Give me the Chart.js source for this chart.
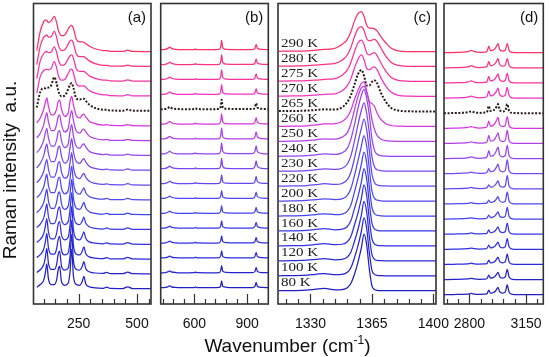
<!DOCTYPE html>
<html lang="en">
  <head>
    <meta charset="utf-8" />
    <title>Raman spectra vs temperature</title>
    <script src="https://cdn.jsdelivr.net/npm/chart.js/dist/chart.umd.min.js"></script>
    <style>
      * { margin: 0; padding: 0; }
      body {
        width: 550px;
        height: 357px;
        position: relative;
        overflow: hidden;
        background: #fff;
        font-family: "Liberation Sans", Arial, sans-serif;
        color: #111;
      }
      canvas { position: absolute; top: 0; }
      .ytitle {
        position: absolute;
        left: -119.6px;
        top: 159px;
        width: 260px;
        height: 22px;
        line-height: 22px;
        font-size: 19px;
        text-align: center;
        white-space: pre;
        transform: rotate(-90deg);
      }
      .xtitle {
        position: absolute;
        left: 137.5px;
        top: 335px;
        width: 300px;
        line-height: 22px;
        font-size: 19px;
        text-align: center;
      }
      .xtitle sup { font-size: 12px; line-height: 0; vertical-align: 8px; }
    </style>
  </head>
  <body>
    <canvas id="panelA"></canvas>
    <canvas id="panelB"></canvas>
    <canvas id="panelC"></canvas>
    <canvas id="panelD"></canvas>
    <div class="ytitle">Raman intensity  a.u.</div>
    <div class="xtitle">Wavenumber (cm<sup>-1</sup>)</div>

    <script>
      // temperatures, bottom trace first
      const temps = [80, 100, 120, 140, 160, 180, 200, 220, 230, 240, 250, 260, 265, 270, 275, 280, 290];
      const dottedTemp = 265;
      const colors = [
        "#1f1fc4", "#2424cf", "#2a2ad9", "#3030e2", "#3838ea", "#4242f0", "#5048f4", "#6448f4",
        "#7a46f2", "#9644ee", "#b43ee8", "#d834e0", "#2b1b1b", "#f432c0", "#fa329c", "#fc3282", "#fe3068",
      ];

      // tick labels (major) and minor tick marks for each panel
      const ticksA = [250, 500];
      const minorA = [100, 150, 200, 300, 350, 400, 450, 550];
      const ticksB = [600, 900];
      const minorB = [420, 480, 540, 660, 720, 780, 840, 960];
      const ticksC = [1330, 1365, 1400];
      const minorC = [1316, 1323, 1337, 1344, 1351, 1358, 1372, 1379, 1386, 1393];
      const ticksD = [2800, 3150];
      const minorD = [2660, 2730, 2870, 2940, 3010, 3080, 3220];

      // panel (a): wavenumbers and intensities (one row per temperature, 80 K first)
      const waveA = [70, 85, 100, 107, 113, 120, 132, 145, 155, 162, 168, 176, 190, 205, 213, 220, 227, 240, 255, 265, 272, 280, 295, 320, 355, 370, 385, 440, 460, 480, 560];
      const intensA = [
        [0.12,0.3,0.6,1.1,1.7,0.7,0.3,0.3,0.6,1.3,1.55,0.5,0.25,0.4,1.2,2.7,0.9,0.3,0.25,0.5,0.85,0.35,0.15,0.08,0.05,0.12,0.04,0.03,0.15,0.03,0.02],
        [0.12,0.3,0.65,1.15,1.75,0.75,0.32,0.32,0.65,1.35,1.55,0.55,0.28,0.42,1.25,2.7,0.95,0.32,0.28,0.52,0.85,0.38,0.16,0.08,0.05,0.12,0.04,0.03,0.14,0.03,0.02],
        [0.13,0.32,0.7,1.2,1.75,0.8,0.35,0.35,0.7,1.35,1.55,0.6,0.3,0.45,1.3,2.65,1.0,0.35,0.3,0.55,0.85,0.4,0.17,0.09,0.05,0.12,0.04,0.03,0.14,0.03,0.02],
        [0.14,0.35,0.75,1.25,1.75,0.85,0.38,0.38,0.75,1.4,1.55,0.65,0.32,0.5,1.35,2.6,1.05,0.38,0.32,0.58,0.85,0.42,0.18,0.1,0.05,0.12,0.04,0.03,0.13,0.03,0.02],
        [0.15,0.38,0.8,1.3,1.75,0.9,0.42,0.42,0.8,1.4,1.55,0.7,0.35,0.55,1.4,2.5,1.1,0.42,0.35,0.6,0.85,0.45,0.2,0.1,0.05,0.12,0.04,0.03,0.13,0.03,0.02],
        [0.16,0.4,0.85,1.35,1.75,0.95,0.45,0.45,0.85,1.45,1.55,0.75,0.38,0.6,1.45,2.4,1.15,0.45,0.38,0.62,0.85,0.48,0.22,0.11,0.05,0.11,0.04,0.03,0.12,0.03,0.02],
        [0.17,0.42,0.9,1.4,1.75,1.0,0.5,0.5,0.9,1.45,1.55,0.8,0.42,0.65,1.5,2.3,1.2,0.5,0.4,0.65,0.82,0.5,0.24,0.12,0.06,0.11,0.04,0.03,0.12,0.03,0.02],
        [0.18,0.45,0.95,1.45,1.75,1.1,0.55,0.55,0.95,1.5,1.6,0.9,0.48,0.7,1.55,2.2,1.25,0.55,0.45,0.68,0.8,0.55,0.27,0.13,0.06,0.1,0.04,0.03,0.11,0.03,0.02],
        [0.18,0.48,1.0,1.5,1.8,1.15,0.6,0.6,1.0,1.55,1.65,0.95,0.5,0.75,1.6,2.15,1.3,0.6,0.48,0.7,0.8,0.58,0.28,0.14,0.06,0.1,0.04,0.03,0.11,0.03,0.02],
        [0.2,0.5,1.05,1.55,1.85,1.2,0.65,0.65,1.05,1.6,1.7,1.0,0.55,0.8,1.65,2.1,1.35,0.62,0.5,0.72,0.8,0.6,0.3,0.15,0.07,0.1,0.04,0.03,0.1,0.03,0.02],
        [0.2,0.52,1.1,1.6,1.9,1.3,0.7,0.7,1.1,1.65,1.75,1.1,0.6,0.85,1.65,2.05,1.4,0.65,0.52,0.74,0.8,0.62,0.32,0.16,0.07,0.1,0.04,0.03,0.1,0.03,0.02],
        [0.22,0.55,1.15,1.6,1.9,1.35,0.75,0.8,1.15,1.65,1.75,1.15,0.65,0.9,1.7,2.0,1.45,0.7,0.55,0.75,0.8,0.62,0.33,0.17,0.07,0.1,0.04,0.03,0.1,0.03,0.02],
        [0.25,1.3,1.55,1.55,1.6,1.6,1.75,2.3,1.9,1.4,1.15,1.0,1.05,1.5,1.8,1.9,1.6,0.85,0.8,0.85,0.85,0.7,0.45,0.22,0.1,0.1,0.05,0.04,0.12,0.04,0.03],
        [0.2,1.35,1.75,1.8,1.85,1.8,1.9,2.35,1.95,1.45,1.2,1.1,1.15,1.55,1.8,1.85,1.6,0.85,0.7,0.72,0.72,0.62,0.4,0.22,0.1,0.1,0.05,0.04,0.12,0.04,0.03],
        [0.2,1.4,1.9,2.0,2.05,1.95,2.0,2.35,2.0,1.5,1.25,1.1,1.15,1.55,1.75,1.8,1.6,0.85,0.7,0.7,0.7,0.6,0.4,0.22,0.1,0.1,0.05,0.04,0.12,0.04,0.03],
        [0.15,1.4,2.0,2.1,2.15,2.0,2.05,2.4,2.0,1.5,1.25,1.1,1.15,1.55,1.75,1.8,1.6,0.85,0.68,0.68,0.68,0.6,0.4,0.22,0.1,0.1,0.05,0.04,0.12,0.04,0.03],
        [0.1,1.4,2.05,2.15,2.15,1.98,2.1,2.4,2.0,1.5,1.25,1.1,1.15,1.55,1.75,1.8,1.6,0.85,0.68,0.68,0.66,0.58,0.4,0.22,0.1,0.1,0.05,0.04,0.12,0.04,0.03],
      ];

      // panel (b)
      const waveB = [409, 435, 450, 460, 470, 495, 570, 600, 607, 614, 700, 742, 750, 755, 761, 780, 930, 944, 951, 958, 985, 1020];
      const intensB = [
        [0.02,0.04,0.08,0.15,0.08,0.04,0.02,0.03,0.07,0.03,0.02,0.04,0.17,0.48,0.12,0.05,0.03,0.11,0.38,0.11,0.04,0.02],
        [0.02,0.04,0.08,0.15,0.08,0.04,0.02,0.03,0.07,0.03,0.02,0.04,0.18,0.5,0.13,0.05,0.03,0.11,0.38,0.11,0.04,0.02],
        [0.02,0.04,0.08,0.15,0.08,0.04,0.02,0.03,0.07,0.03,0.02,0.04,0.18,0.5,0.13,0.05,0.03,0.12,0.4,0.12,0.04,0.02],
        [0.02,0.04,0.09,0.15,0.09,0.04,0.02,0.03,0.07,0.03,0.02,0.04,0.18,0.51,0.13,0.05,0.03,0.12,0.4,0.12,0.04,0.02],
        [0.02,0.04,0.09,0.16,0.09,0.04,0.02,0.03,0.07,0.03,0.02,0.04,0.18,0.52,0.13,0.05,0.03,0.13,0.42,0.13,0.04,0.02],
        [0.02,0.04,0.09,0.16,0.09,0.04,0.02,0.03,0.07,0.03,0.02,0.04,0.18,0.53,0.13,0.05,0.03,0.13,0.42,0.13,0.04,0.02],
        [0.02,0.04,0.1,0.17,0.1,0.04,0.02,0.03,0.08,0.03,0.02,0.04,0.19,0.55,0.14,0.05,0.03,0.14,0.45,0.14,0.04,0.02],
        [0.02,0.04,0.1,0.18,0.1,0.04,0.02,0.03,0.08,0.03,0.02,0.04,0.21,0.6,0.15,0.05,0.03,0.15,0.5,0.15,0.04,0.02],
        [0.02,0.04,0.11,0.2,0.11,0.04,0.02,0.03,0.08,0.03,0.02,0.04,0.25,0.72,0.18,0.05,0.03,0.17,0.55,0.17,0.04,0.02],
        [0.02,0.04,0.11,0.2,0.11,0.04,0.02,0.03,0.08,0.03,0.02,0.04,0.26,0.75,0.19,0.05,0.03,0.17,0.55,0.17,0.04,0.02],
        [0.02,0.04,0.11,0.2,0.11,0.04,0.02,0.03,0.08,0.03,0.02,0.04,0.26,0.75,0.19,0.05,0.03,0.15,0.5,0.15,0.04,0.02],
        [0.02,0.04,0.11,0.2,0.11,0.04,0.02,0.03,0.08,0.03,0.02,0.04,0.25,0.7,0.18,0.05,0.03,0.14,0.45,0.14,0.04,0.02],
        [0.02,0.04,0.1,0.18,0.1,0.04,0.02,0.03,0.08,0.03,0.02,0.04,0.23,0.65,0.16,0.05,0.03,0.13,0.42,0.13,0.04,0.02],
        [0.02,0.04,0.1,0.18,0.1,0.04,0.02,0.03,0.08,0.03,0.02,0.04,0.23,0.67,0.17,0.05,0.03,0.12,0.4,0.12,0.04,0.02],
        [0.02,0.04,0.1,0.18,0.1,0.04,0.02,0.03,0.08,0.03,0.02,0.04,0.23,0.67,0.17,0.05,0.03,0.12,0.4,0.12,0.04,0.02],
        [0.02,0.04,0.1,0.18,0.1,0.04,0.02,0.03,0.08,0.03,0.02,0.04,0.23,0.67,0.17,0.05,0.03,0.12,0.4,0.12,0.04,0.02],
        [0.02,0.04,0.11,0.2,0.11,0.04,0.02,0.03,0.08,0.03,0.02,0.04,0.23,0.65,0.16,0.05,0.03,0.11,0.38,0.11,0.04,0.02],
      ];

      // panel (c)
      const waveC = [1312, 1320, 1328, 1333, 1338, 1344, 1348, 1351, 1353, 1355, 1357, 1359, 1360.5, 1362, 1363.5, 1365, 1366.5, 1368, 1370, 1373, 1376, 1380, 1386, 1395, 1401.5];
      const intensC = [
        [0.02,0.03,0.06,0.12,0.17,0.08,0.1,0.22,0.5,1.1,1.9,2.9,3.8,3.1,1.5,0.35,0.1,0.04,0.02,0.02,0.02,0.02,0.02,0.02,0.02],
        [0.02,0.03,0.06,0.12,0.17,0.09,0.11,0.25,0.55,1.2,2.0,3.0,3.9,3.2,1.6,0.4,0.11,0.05,0.03,0.02,0.02,0.02,0.02,0.02,0.02],
        [0.02,0.03,0.06,0.12,0.17,0.09,0.12,0.28,0.6,1.3,2.1,3.1,4.0,3.3,1.7,0.45,0.12,0.05,0.03,0.02,0.02,0.02,0.02,0.02,0.02],
        [0.02,0.03,0.06,0.12,0.17,0.1,0.13,0.3,0.65,1.4,2.2,3.2,4.1,3.4,1.8,0.5,0.14,0.06,0.03,0.02,0.02,0.02,0.02,0.02,0.02],
        [0.02,0.03,0.06,0.12,0.17,0.1,0.14,0.32,0.7,1.5,2.3,3.3,4.2,3.5,1.9,0.55,0.15,0.06,0.03,0.02,0.02,0.02,0.02,0.02,0.02],
        [0.02,0.03,0.06,0.12,0.17,0.11,0.15,0.35,0.75,1.6,2.5,3.5,4.3,3.6,2.0,0.6,0.17,0.07,0.03,0.02,0.02,0.02,0.02,0.02,0.02],
        [0.02,0.03,0.06,0.12,0.17,0.12,0.17,0.4,0.85,1.7,2.7,3.7,4.4,3.7,2.2,0.7,0.2,0.08,0.04,0.02,0.02,0.02,0.02,0.02,0.02],
        [0.02,0.03,0.06,0.12,0.18,0.13,0.2,0.45,0.95,1.85,2.9,3.9,4.5,3.8,2.4,0.85,0.25,0.1,0.05,0.03,0.02,0.02,0.02,0.02,0.02],
        [0.02,0.03,0.06,0.12,0.18,0.14,0.22,0.5,1.05,2.0,3.1,4.1,4.6,3.9,2.6,1.0,0.3,0.12,0.06,0.03,0.02,0.02,0.02,0.02,0.02],
        [0.02,0.03,0.06,0.12,0.18,0.15,0.25,0.55,1.15,2.1,3.2,4.1,4.5,3.9,2.8,1.2,0.4,0.15,0.07,0.03,0.02,0.02,0.02,0.02,0.02],
        [0.02,0.03,0.06,0.12,0.18,0.17,0.3,0.6,1.2,2.1,3.0,3.6,3.7,3.3,2.6,1.5,0.8,0.4,0.18,0.06,0.03,0.02,0.02,0.02,0.02],
        [0.02,0.03,0.06,0.12,0.18,0.2,0.35,0.65,1.1,1.8,2.4,2.9,3.0,2.4,1.7,1.55,1.35,0.9,0.5,0.2,0.08,0.03,0.02,0.02,0.02],
        [0.05,0.05,0.08,0.12,0.16,0.15,0.3,0.65,1.1,1.8,2.5,2.8,2.4,1.75,1.75,2.0,2.1,1.9,1.3,0.65,0.25,0.08,0.03,0.02,0.02],
        [0.05,0.06,0.08,0.12,0.17,0.2,0.4,0.75,1.2,1.9,2.5,2.8,2.5,1.9,1.8,1.95,2.0,1.8,1.3,0.7,0.3,0.1,0.04,0.03,0.03],
        [0.05,0.06,0.08,0.12,0.17,0.22,0.45,0.8,1.3,2.0,2.6,2.8,2.5,1.95,1.8,1.9,1.95,1.75,1.3,0.7,0.3,0.1,0.04,0.03,0.03],
        [0.05,0.06,0.08,0.12,0.17,0.24,0.45,0.8,1.3,2.0,2.55,2.7,2.45,1.9,1.75,1.8,1.85,1.7,1.3,0.7,0.3,0.1,0.04,0.03,0.03],
        [0.05,0.06,0.08,0.12,0.17,0.25,0.5,0.85,1.35,2.05,2.55,2.7,2.4,1.8,1.6,1.6,1.55,1.4,1.05,0.6,0.25,0.08,0.03,0.02,0.02],
      ];

      // panel (d)
      const waveD = [2643, 2700, 2790, 2812, 2830, 2860, 2895, 2910, 2920, 2930, 2945, 2960, 2970, 2977, 2987, 3005, 3022, 3034, 3045, 3065, 3150, 3257];
      const intensD = [
        [0.02,0.03,0.06,0.1,0.06,0.04,0.05,0.1,0.33,0.12,0.15,0.25,0.4,0.5,0.22,0.12,0.2,0.67,0.2,0.04,0.02,0.02],
        [0.02,0.03,0.06,0.1,0.06,0.04,0.05,0.1,0.32,0.12,0.15,0.25,0.4,0.5,0.22,0.12,0.2,0.7,0.2,0.04,0.02,0.02],
        [0.02,0.03,0.06,0.1,0.06,0.04,0.05,0.1,0.3,0.12,0.15,0.25,0.4,0.5,0.22,0.12,0.2,0.7,0.2,0.04,0.02,0.02],
        [0.02,0.03,0.06,0.1,0.06,0.04,0.05,0.1,0.3,0.12,0.15,0.25,0.4,0.5,0.22,0.12,0.2,0.72,0.2,0.04,0.02,0.02],
        [0.02,0.03,0.06,0.1,0.06,0.04,0.05,0.1,0.3,0.12,0.15,0.25,0.4,0.5,0.22,0.13,0.2,0.75,0.2,0.04,0.02,0.02],
        [0.02,0.03,0.06,0.1,0.06,0.04,0.05,0.1,0.28,0.12,0.15,0.25,0.4,0.5,0.22,0.13,0.21,0.8,0.21,0.04,0.02,0.02],
        [0.02,0.03,0.06,0.1,0.06,0.04,0.05,0.1,0.28,0.12,0.15,0.25,0.4,0.5,0.23,0.13,0.21,0.8,0.21,0.04,0.02,0.02],
        [0.02,0.03,0.07,0.11,0.07,0.04,0.05,0.11,0.28,0.13,0.16,0.28,0.44,0.55,0.24,0.13,0.22,0.9,0.22,0.04,0.02,0.02],
        [0.02,0.03,0.07,0.12,0.07,0.04,0.06,0.12,0.35,0.15,0.18,0.33,0.52,0.65,0.26,0.14,0.23,0.95,0.23,0.04,0.02,0.02],
        [0.02,0.03,0.07,0.13,0.07,0.04,0.06,0.15,0.55,0.18,0.2,0.39,0.62,0.78,0.27,0.14,0.23,0.9,0.22,0.04,0.02,0.02],
        [0.02,0.03,0.07,0.13,0.07,0.04,0.06,0.15,0.55,0.18,0.2,0.36,0.58,0.72,0.26,0.14,0.23,0.9,0.22,0.04,0.02,0.02],
        [0.02,0.03,0.08,0.14,0.08,0.04,0.06,0.14,0.5,0.17,0.2,0.38,0.6,0.75,0.26,0.14,0.22,0.8,0.21,0.04,0.02,0.02],
        [0.02,0.03,0.08,0.14,0.08,0.04,0.06,0.14,0.5,0.17,0.2,0.31,0.5,0.62,0.24,0.13,0.2,0.62,0.19,0.04,0.02,0.02],
        [0.02,0.03,0.08,0.15,0.08,0.04,0.06,0.14,0.5,0.17,0.2,0.34,0.54,0.67,0.25,0.13,0.21,0.72,0.2,0.04,0.02,0.02],
        [0.02,0.03,0.08,0.15,0.08,0.04,0.06,0.13,0.45,0.16,0.19,0.31,0.5,0.62,0.24,0.13,0.2,0.65,0.19,0.04,0.02,0.02],
        [0.02,0.03,0.08,0.16,0.08,0.04,0.06,0.13,0.45,0.16,0.19,0.31,0.5,0.62,0.24,0.13,0.2,0.62,0.19,0.04,0.02,0.02],
        [0.02,0.03,0.09,0.18,0.09,0.04,0.06,0.13,0.45,0.16,0.19,0.31,0.5,0.62,0.24,0.13,0.2,0.62,0.19,0.04,0.02,0.02],
      ];

      // layout of the four frames (page pixels)
      const FRAME_TOP = 3.5;
      const FRAME_BOTTOM = 304;
      const AXIS_H = 40;
      const panels = [
        { id: "panelA", letter: "(a)", left: 33.5, right: 151, xMin: 56, xMax: 560, major: ticksA, minor: minorA, wave: waveA, inten: intensA, yTop: 52, yBot: 289 },
        { id: "panelB", letter: "(b)", left: 160.7, right: 268.3, xMin: 409, xMax: 1020, major: ticksB, minor: minorB, wave: waveB, inten: intensB, yTop: 50, yBot: 288 },
        { id: "panelC", letter: "(c)", left: 278, right: 436, xMin: 1311.5, xMax: 1401.5, major: ticksC, minor: minorC, wave: waveC, inten: intensC, yTop: 52, yBot: 291, labels: true },
        { id: "panelD", letter: "(d)", left: 444, right: 543.3, xMin: 2643, xMax: 3257, major: ticksD, minor: minorD, wave: waveD, inten: intensD, yTop: 53, yBot: 295 },
      ];

      function frameDecor(p) {
        return {
          id: "frameDecor",
          afterDatasetsDraw(chart) {
            const { ctx, chartArea: a, scales } = chart;
            const x = scales.x, y = scales.y;
            ctx.save();
            // inward tick marks
            ctx.strokeStyle = "#333";
            ctx.lineWidth = 1.2;
            ctx.beginPath();
            p.minor.forEach((v) => {
              const px = Math.round(x.getPixelForValue(v)) + 0.5;
              ctx.moveTo(px, a.bottom);
              ctx.lineTo(px, a.bottom - 5);
            });
            p.major.forEach((v) => {
              const px = Math.round(x.getPixelForValue(v)) + 0.5;
              ctx.moveTo(px, a.bottom);
              ctx.lineTo(px, a.bottom - 10);
            });
            ctx.stroke();
            // frame
            ctx.lineWidth = 1.6;
            ctx.strokeRect(a.left, a.top, a.right - a.left, a.bottom - a.top);
            // panel letter
            ctx.fillStyle = "#111";
            ctx.font = '15px "Liberation Sans"';
            ctx.textAlign = "right";
            ctx.textBaseline = "middle";
            ctx.fillText(p.letter, a.right - 5, a.top + 14);
            // temperature labels
            if (p.labels) {
              ctx.font = '12.5px "Liberation Serif"';
              ctx.textAlign = "left";
              ctx.fillStyle = "#222";
              temps.forEach((t, i) => {
                const py = y.getPixelForValue(i) - 8;
                ctx.save();
                ctx.translate(a.left + 3, py);
                ctx.scale(1.2, 1);
                ctx.fillText(t + " K", 0, 0);
                ctx.restore();
              });
            }
            ctx.restore();
          },
        };
      }

      panels.forEach((p) => {
        const canvas = document.getElementById(p.id);
        const cLeft = Math.floor(p.left) - 28;
        const cRight = Math.ceil(p.right) + 28;
        const cWidth = cRight - cLeft;
        canvas.width = cWidth;
        canvas.height = 357;
        canvas.style.left = cLeft + "px";
        canvas.style.width = cWidth + "px";
        canvas.style.height = "357px";

        const H = FRAME_BOTTOM - FRAME_TOP;
        const unit = (p.yBot - p.yTop) / 16;
        const yMin = -(FRAME_BOTTOM - p.yBot) / unit;
        const yMax = yMin + H / unit;

        const datasets = temps.map((t, i) => ({
          label: t + " K",
          data: p.wave.map((w, k) => ({ x: w, y: i + p.inten[i][k] })),
          borderColor: colors[i],
          borderWidth: t === dottedTemp ? 2 : 1.25,
          borderDash: t === dottedTemp ? [2, 1.6] : [],
          pointRadius: 0,
          cubicInterpolationMode: "monotone",
          fill: false,
        }));

        new Chart(canvas, {
          type: "line",
          data: { datasets },
          options: {
            responsive: false,
            animation: false,
            events: [],
            layout: {
              padding: { left: p.left - cLeft, right: cRight - p.right, top: FRAME_TOP, bottom: 357 - FRAME_BOTTOM - AXIS_H },
            },
            plugins: { legend: { display: false }, tooltip: { enabled: false } },
            scales: {
              x: {
                type: "linear",
                min: p.xMin,
                max: p.xMax,
                grid: { display: false },
                border: { display: false },
                afterBuildTicks: (s) => { s.ticks = p.major.map((v) => ({ value: v })); },
                afterFit: (s) => { s.height = AXIS_H; },
                ticks: {
                  autoSkip: false,
                  maxRotation: 0,
                  padding: 4,
                  color: "#111",
                  font: { family: "Liberation Sans", size: 14 },
                  callback: (v) => String(v),
                },
              },
              y: { type: "linear", display: false, min: yMin, max: yMax },
            },
          },
          plugins: [frameDecor(p)],
        });
      });
    </script>
  </body>
</html>
